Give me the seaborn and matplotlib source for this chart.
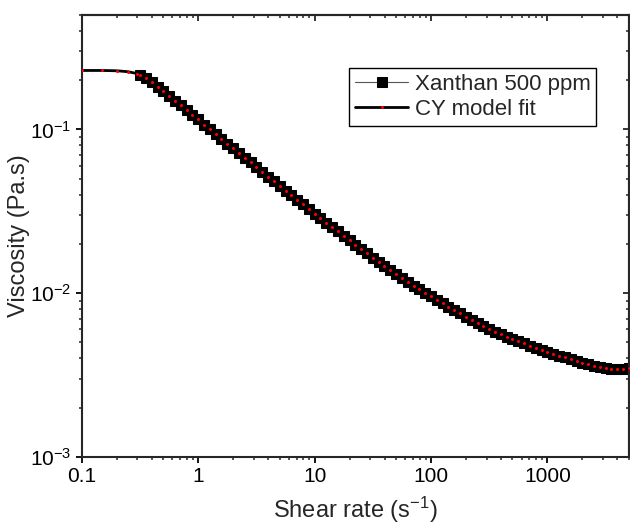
import matplotlib
matplotlib.use('Agg')
import matplotlib.pyplot as plt
import seaborn as sns
from matplotlib.ticker import NullFormatter

# Flow curve (shear rate in 1/s, viscosity in Pa.s)
shear_rate = [0.316, 0.355, 0.398, 0.447, 0.501, 0.562, 0.631, 0.708, 0.794, 0.891,
              1.0, 1.12, 1.26, 1.41, 1.58, 1.78, 2.0, 2.24, 2.51, 2.82,
              3.16, 3.55, 3.98, 4.47, 5.01, 5.62, 6.31, 7.08, 7.94, 8.91,
              10, 11.2, 12.6, 14.1, 15.8, 17.8, 20, 22.4, 25.1, 28.2,
              31.6, 35.5, 39.8, 44.7, 50.1, 56.2, 63.1, 70.8, 79.4, 89.1,
              100, 112, 126, 141, 158, 178, 200, 224, 251, 282,
              316, 355, 398, 447, 501, 562, 631, 708, 794, 891,
              1000, 1120, 1260, 1410, 1580, 1780, 2000, 2240, 2510, 2820,
              3160, 3550, 3980, 4470, 5010]
viscosity = [0.215, 0.205, 0.194, 0.182, 0.171, 0.160, 0.150, 0.140, 0.131, 0.122,
             0.115, 0.107, 0.100, 0.0938, 0.0877, 0.0820, 0.0767, 0.0718, 0.0671, 0.0628,
             0.0588, 0.0550, 0.0514, 0.0482, 0.0451, 0.0423, 0.0396, 0.0372, 0.0348, 0.0327,
             0.0306, 0.0287, 0.0270, 0.0253, 0.0238, 0.0223, 0.0210, 0.0197, 0.0186, 0.0175,
             0.0165, 0.0155, 0.0146, 0.0138, 0.0131, 0.0124, 0.0117, 0.0111, 0.0106, 0.0100,
             0.00955, 0.00908, 0.00865, 0.00824, 0.00787, 0.00752, 0.00718, 0.00687, 0.00658, 0.00631,
             0.00605, 0.00582, 0.00562, 0.00543, 0.00525, 0.00508, 0.00493, 0.00479, 0.00465, 0.00452,
             0.00440, 0.00428, 0.00416, 0.00406, 0.00395, 0.00386, 0.00376, 0.00367, 0.00360, 0.00353,
             0.00348, 0.00344, 0.00342, 0.00344, 0.00349]

# CY fit: zero-shear plateau below the first data point, then it follows the data
plateau_rate = [0.1, 0.15, 0.2, 0.25, 0.3]
plateau_visc = [0.229, 0.229, 0.228, 0.225, 0.219]
fit_rate = plateau_rate + shear_rate
fit_visc = plateau_visc + viscosity

x_ticks = [0.1, 1, 10, 100, 1000]
x_ticklabels = ['0.1', '1', '10', '100', '1000']

sns.set_style('ticks')
plt.rcParams['font.family'] = ['Liberation Sans', 'DejaVu Sans']
plt.rcParams['mathtext.default'] = 'regular'
plt.rcParams['axes.linewidth'] = 1.5

fig = plt.figure(figsize=(6.3, 5.24), dpi=100)
ax = fig.add_axes([0.130, 0.128, 0.868, 0.8435])

sns.lineplot(x=shear_rate, y=viscosity, ax=ax, color='#555555', linewidth=0.8,
             marker='s', markersize=6.5, markerfacecolor='black', markeredgecolor='black',
             label='Xanthan 500 ppm', zorder=2)
sns.lineplot(x=fit_rate, y=fit_visc, ax=ax, color='black', linewidth=2,
             marker='o', markersize=1.4, markerfacecolor='red', markeredgecolor='red',
             label='CY model fit', zorder=3)

ax.set_xscale('log')
ax.set_yscale('log')
ax.set_xlim(0.1, 5000)
ax.set_ylim(1e-3, 0.5)
ax.set_xticks(x_ticks)
ax.set_xticklabels(x_ticklabels)
ax.xaxis.set_minor_formatter(NullFormatter())
ax.yaxis.set_minor_formatter(NullFormatter())

ax.tick_params(which='major', direction='out', length=4.5, width=1.3, pad=3,
               labelsize=15, colors='black')
ax.tick_params(which='minor', direction='out', length=2.5, width=1.1)

# mirrored ticks pointing inward on top and right
top = ax.secondary_xaxis('top')
top.tick_params(which='major', direction='in', length=4.5, width=1.3)
top.tick_params(which='minor', direction='in', length=2.5, width=1.1)
top.xaxis.set_major_formatter(NullFormatter())
top.xaxis.set_minor_formatter(NullFormatter())
right = ax.secondary_yaxis('right')
right.tick_params(which='major', direction='in', length=4.5, width=1.3)
right.tick_params(which='minor', direction='in', length=2.5, width=1.1)
right.yaxis.set_major_formatter(NullFormatter())
right.yaxis.set_minor_formatter(NullFormatter())

ax.set_xlabel('Shear rate (s$^{-1}$)', fontsize=17, labelpad=6)
ax.set_ylabel('Viscosity (Pa.s)', fontsize=17, labelpad=0)

leg = ax.legend(loc='upper right', bbox_to_anchor=(0.941, 0.880), fontsize=16,
                frameon=True, fancybox=False, edgecolor='black', framealpha=1,
                handlelength=2.4, borderpad=0.25, labelspacing=0.2,
                handletextpad=0.3, borderaxespad=0)
leg.get_frame().set_linewidth(1.0)

fig.savefig('out.png', dpi=100)
